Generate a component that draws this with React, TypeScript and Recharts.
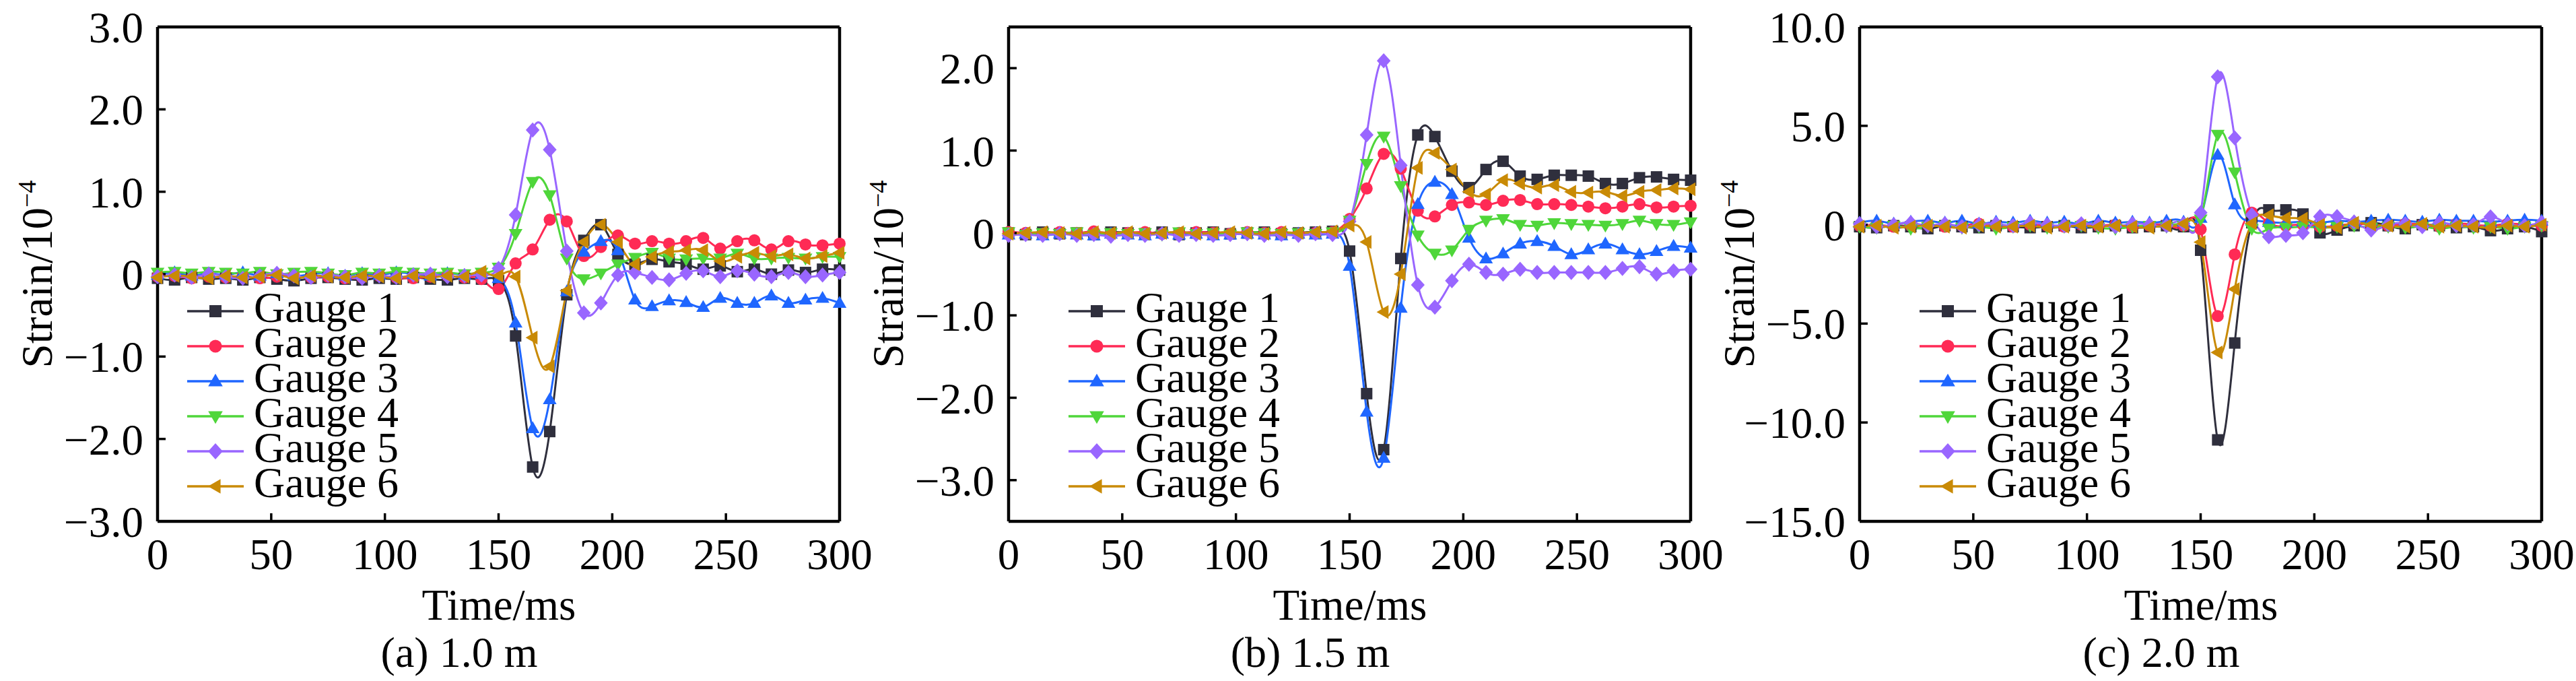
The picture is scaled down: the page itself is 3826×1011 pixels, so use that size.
import React from "react";
import { LineChart, Line, XAxis, YAxis, ReferenceLine } from "recharts";

// time axis, ms (one sample every 7.5 ms)
const TIME = [
  0, 7.5, 15, 22.5, 30, 37.5, 45, 52.5, 60, 67.5, 75, 82.5, 90, 97.5, 105, 112.5, 120, 127.5, 135, 142.5,
  150, 157.5, 165, 172.5, 180, 187.5, 195, 202.5, 210, 217.5, 225, 232.5, 240, 247.5, 255, 262.5, 270, 277.5, 285, 292.5, 300,
];
const X_TICKS = [0, 50, 100, 150, 200, 250, 300];

// (a) 1.0 m
const A_G1 = [-0.05, -0.07, -0.04, -0.06, -0.05, -0.07, -0.04, -0.06, -0.08, -0.05, -0.04, -0.06, -0.07, -0.05, -0.06, -0.04, -0.06, -0.07, -0.05, -0.06,
  -0.08, -0.75, -2.34, -1.91, -0.25, 0.41, 0.6, 0.24, 0.12, 0.18, 0.15, 0.12, 0.06, 0.1, 0.03, 0.06, 0.0, 0.05, 0.02, 0.06, 0.05];
const A_G2 = [-0.03, -0.02, -0.05, -0.03, -0.04, -0.02, -0.05, -0.03, -0.02, -0.04, -0.03, -0.05, -0.04, -0.02, -0.04, -0.05, -0.03, -0.02, -0.04, -0.06,
  -0.18, 0.13, 0.3, 0.66, 0.64, 0.22, 0.33, 0.47, 0.37, 0.4, 0.37, 0.4, 0.44, 0.31, 0.4, 0.41, 0.3, 0.4, 0.36, 0.35, 0.37];
const A_G3 = [-0.01, 0.02, -0.02, 0.01, -0.01, 0.02, -0.02, 0.01, -0.02, 0.0, 0.01, -0.02, 0.01, -0.01, 0.02, 0.0, -0.02, 0.01, -0.01, 0.0,
  -0.05, -0.59, -1.87, -1.52, -0.21, 0.27, 0.4, 0.29, -0.31, -0.39, -0.32, -0.34, -0.4, -0.29, -0.35, -0.35, -0.26, -0.35, -0.31, -0.29, -0.35];
const A_G4 = [0.02, 0.03, 0.01, 0.03, 0.02, 0.01, 0.03, 0.0, 0.02, 0.03, 0.01, -0.01, 0.02, 0.01, 0.03, 0.02, 0.01, 0.02, 0.0, 0.02,
  0.08, 0.49, 1.12, 0.96, 0.19, -0.06, 0.01, 0.12, 0.2, 0.26, 0.19, 0.18, 0.19, 0.19, 0.25, 0.19, 0.19, 0.2, 0.19, 0.21, 0.21];
const A_G5 = [-0.03, -0.01, -0.04, 0.0, -0.03, -0.05, -0.02, 0.01, -0.02, -0.04, -0.01, -0.03, -0.05, -0.02, -0.04, -0.01, 0.0, -0.03, -0.02, -0.01,
  0.07, 0.72, 1.75, 1.51, 0.28, -0.47, -0.35, -0.01, 0.02, -0.04, -0.07, 0.01, 0.04, -0.03, 0.04, 0.0, -0.03, 0.02, -0.03, -0.01, 0.02];
const A_G6 = [-0.04, -0.02, -0.03, -0.05, -0.02, -0.04, -0.03, -0.01, -0.05, -0.02, -0.03, -0.04, -0.02, -0.03, -0.05, -0.02, -0.04, -0.02, -0.03, 0.03,
  -0.02, -0.03, -0.77, -1.12, -0.2, 0.39, 0.6, 0.39, 0.12, 0.21, 0.27, 0.29, 0.29, 0.16, 0.21, 0.26, 0.22, 0.24, 0.19, 0.22, 0.26];
const A_TICKS = [-3, -2, -1, 0, 1, 2, 3];

// (b) 1.5 m
const B_G1 = [0.0, -0.02, 0.01, -0.01, 0.0, -0.02, 0.01, 0.0, -0.01, 0.01, -0.02, 0.0, 0.01, -0.01, 0.0, 0.01, -0.01, 0.0, 0.01, 0.02,
  -0.22, -1.95, -2.63, -0.31, 1.19, 1.17, 0.75, 0.55, 0.77, 0.87, 0.69, 0.65, 0.7, 0.7, 0.69, 0.6, 0.6, 0.67, 0.68, 0.65, 0.64];
const B_G2 = [0.01, 0.0, -0.01, 0.01, 0.0, 0.02, -0.01, 0.0, 0.01, -0.01, 0.0, 0.01, 0.0, -0.01, 0.01, 0.0, 0.01, -0.01, 0.0, 0.01,
  0.17, 0.54, 0.96, 0.78, 0.27, 0.2, 0.34, 0.37, 0.34, 0.39, 0.4, 0.35, 0.35, 0.34, 0.32, 0.3, 0.32, 0.35, 0.31, 0.32, 0.33];
const B_G3 = [-0.02, -0.01, -0.03, -0.01, -0.02, -0.03, -0.01, -0.02, -0.03, -0.01, -0.02, -0.01, -0.03, -0.02, -0.01, -0.02, -0.03, -0.01, -0.02, -0.01,
  -0.4, -2.17, -2.73, -0.91, 0.35, 0.62, 0.47, -0.06, -0.31, -0.25, -0.13, -0.1, -0.16, -0.26, -0.2, -0.13, -0.2, -0.26, -0.22, -0.16, -0.18];
const B_G4 = [0.01, -0.02, 0.0, -0.01, 0.01, -0.02, 0.0, -0.01, 0.0, -0.02, 0.01, -0.01, 0.0, -0.02, 0.01, 0.0, -0.01, 0.0, -0.01, 0.01,
  0.15, 0.84, 1.17, 0.57, -0.03, -0.25, -0.21, 0.04, 0.15, 0.17, 0.1, 0.09, 0.12, 0.11, 0.1, 0.09, 0.11, 0.15, 0.11, 0.1, 0.13];
const B_G5 = [-0.03, -0.02, -0.03, -0.01, -0.03, -0.02, -0.04, -0.02, -0.03, -0.01, -0.03, -0.02, -0.03, -0.02, -0.01, -0.03, -0.02, -0.03, -0.01, -0.02,
  0.14, 1.19, 2.09, 0.82, -0.63, -0.9, -0.58, -0.38, -0.48, -0.5, -0.44, -0.48, -0.48, -0.48, -0.48, -0.48, -0.43, -0.41, -0.5, -0.46, -0.44];
const B_G6 = [-0.01, 0.0, 0.01, 0.0, -0.01, 0.01, 0.0, 0.01, -0.01, 0.0, 0.01, -0.01, 0.0, 0.01, 0.0, -0.01, 0.01, 0.0, 0.01, 0.02,
  0.09, -0.11, -0.96, -0.5, 0.79, 0.97, 0.77, 0.5, 0.47, 0.64, 0.6, 0.55, 0.58, 0.5, 0.49, 0.5, 0.45, 0.5, 0.52, 0.54, 0.53];
const B_TICKS = [-3, -2, -1, 0, 1, 2];

// (c) 2.0 m
const C_G1 = [-0.1, -0.15, -0.05, -0.1, -0.2, -0.05, -0.1, -0.15, -0.05, -0.1, -0.15, -0.1, -0.05, -0.15, -0.1, -0.05, -0.15, -0.1, -0.05, -0.1,
  -1.29, -10.88, -5.98, 0.1, 0.75, 0.75, 0.54, -0.41, -0.27, -0.05, 0.1, -0.05, -0.2, 0.0, -0.05, -0.15, -0.1, -0.3, -0.2, -0.1, -0.35];
const C_G2 = [-0.05, 0.0, -0.1, -0.05, 0.0, -0.1, -0.05, 0.05, -0.05, -0.1, 0.0, -0.05, -0.1, 0.0, -0.05, 0.0, -0.1, -0.05, 0.0, -0.05,
  -0.23, -4.62, -1.5, 0.61, 0.07, -0.05, 0.0, -0.1, -0.05, 0.05, 0.0, -0.05, 0.05, 0.0, -0.1, 0.05, 0.0, -0.05, 0.05, 0.0, -0.05];
const C_G3 = [0.1, 0.2, 0.05, 0.15, 0.2, 0.1, 0.2, 0.05, 0.15, 0.1, 0.2, 0.1, 0.15, 0.05, 0.2, 0.1, 0.15, 0.1, 0.2, 0.15,
  0.34, 3.53, 1.02, 0.2, 0.14, 0.1, 0.15, 0.1, 0.2, 0.15, 0.2, 0.25, 0.2, 0.15, 0.25, 0.2, 0.2, 0.15, 0.2, 0.25, 0.2];
const C_G4 = [-0.1, -0.15, -0.05, -0.2, -0.1, -0.05, -0.15, -0.1, -0.2, -0.1, -0.05, -0.15, -0.1, -0.05, -0.15, -0.2, -0.1, -0.05, -0.1, -0.05,
  0.27, 4.55, 2.65, -0.2, -0.2, -0.15, -0.1, -0.15, -0.1, -0.05, -0.15, -0.1, -0.15, -0.1, -0.2, -0.1, -0.15, -0.1, -0.2, -0.1, -0.05];
const C_G5 = [0.05, -0.1, 0.0, 0.1, -0.05, 0.05, -0.1, 0.0, 0.05, -0.05, 0.1, 0.0, -0.05, 0.05, 0.0, -0.1, 0.05, 0.0, -0.05, 0.05,
  0.61, 7.48, 4.39, 0.5, -0.61, -0.54, -0.41, 0.41, 0.41, 0.14, -0.27, 0.0, 0.05, -0.1, 0.1, -0.05, 0.0, 0.4, 0.05, -0.05, 0.1];
const C_G6 = [-0.1, -0.05, -0.15, -0.1, -0.05, -0.1, -0.15, -0.05, -0.1, -0.1, -0.05, -0.15, -0.1, -0.05, -0.1, -0.05, -0.1, -0.15, -0.05, 0.05,
  -0.88, -6.46, -3.26, 0.07, 0.48, 0.34, 0.31, 0.0, -0.14, 0.1, 0.0, -0.05, -0.1, 0.05, -0.1, -0.05, -0.1, -0.15, -0.05, -0.1, 0.0];
const C_TICKS = [-15, -10, -5, 0, 5, 10];

const SERIES = [
  { key: "g1", name: "Gauge 1", color: "#2f2f3d", shape: "square" },
  { key: "g2", name: "Gauge 2", color: "#ff2a55", shape: "circle" },
  { key: "g3", name: "Gauge 3", color: "#1f66ff", shape: "up" },
  { key: "g4", name: "Gauge 4", color: "#4fd63a", shape: "down" },
  { key: "g5", name: "Gauge 5", color: "#9966ff", shape: "diamond" },
  { key: "g6", name: "Gauge 6", color: "#c98a05", shape: "left" },
];

const FONT = '"Liberation Serif", "Times New Roman", serif';
const CHART_W = 1307;
const CHART_H = 1011;
const Y_W = 200;
const X_H = 60;
// plot area inside each chart: x 234..1247, y 40..774
const MARGIN = { top: 40, right: 60, bottom: 177, left: 34 };

const toRows = (cols: number[][]) =>
  TIME.map((t, i) => {
    const row: any = { t };
    SERIES.forEach((s, j) => (row[s.key] = cols[j][i]));
    return row;
  });

const PANELS = [
  { id: "a", x: 0, domain: [-3, 3], ticks: A_TICKS, legendX: 44, title: "(a) 1.0 m", rows: toRows([A_G1, A_G2, A_G3, A_G4, A_G5, A_G6]) },
  { id: "b", x: 1264, domain: [-3.5, 2.5], ticks: B_TICKS, legendX: 89, title: "(b) 1.5 m", rows: toRows([B_G1, B_G2, B_G3, B_G4, B_G5, B_G6]) },
  { id: "c", x: 2528, domain: [-15, 10], ticks: C_TICKS, legendX: 89, title: "(c) 2.0 m", rows: toRows([C_G1, C_G2, C_G3, C_G4, C_G5, C_G6]) },
];

const fmtY = (v: number) => (v === 0 ? "0" : v.toFixed(1).replace("-", "\u2212"));

function Marker({ shape, cx, cy, color, s = 17 }: any) {
  if (cx == null || cy == null) return null;
  switch (shape) {
    case "square":
      return <rect x={cx - s / 2} y={cy - s / 2} width={s} height={s} fill={color} />;
    case "circle":
      return <circle cx={cx} cy={cy} r={s / 2 + 0.5} fill={color} />;
    case "up":
      return <polygon points={`${cx},${cy - 0.62 * s} ${cx - 0.6 * s},${cy + 0.42 * s} ${cx + 0.6 * s},${cy + 0.42 * s}`} fill={color} />;
    case "down":
      return <polygon points={`${cx},${cy + 0.62 * s} ${cx - 0.6 * s},${cy - 0.42 * s} ${cx + 0.6 * s},${cy - 0.42 * s}`} fill={color} />;
    case "diamond":
      return <polygon points={`${cx},${cy - 0.66 * s} ${cx + 0.6 * s},${cy} ${cx},${cy + 0.66 * s} ${cx - 0.6 * s},${cy}`} fill={color} />;
    default:
      return <polygon points={`${cx - 0.62 * s},${cy} ${cx + 0.42 * s},${cy - 0.6 * s} ${cx + 0.42 * s},${cy + 0.6 * s}`} fill={color} />;
  }
}

// axis titles, panel caption and legend
function PanelText({ title, legendX }: any) {
  const x0 = 234 + legendX;
  return (
    <g fontFamily={FONT} fill="#000">
      <text x={77} y={407} transform="rotate(-90 77 407)" textAnchor="middle" fontSize={65}>
        Strain/10<tspan dy={-24} fontSize={38}>{"\u22124"}</tspan>
      </text>
      <text x={741} y={920} textAnchor="middle" fontSize={65}>Time/ms</text>
      <text x={682} y={990} textAnchor="middle" fontSize={64}>{title}</text>
      {SERIES.map((s, i) => {
        const y = 462 + 52 * i;
        return (
          <g key={s.key}>
            <line x1={x0} x2={x0 + 84} y1={y} y2={y} stroke={s.color} strokeWidth={3.5} />
            <Marker shape={s.shape} cx={x0 + 42} cy={y} color={s.color} s={18} />
            <text x={x0 + 99} y={y + 16} fontSize={64}>{s.name}</text>
          </g>
        );
      })}
    </g>
  );
}

function Panel({ p }: any) {
  const tick = { fontSize: 65, fill: "#000", fontFamily: FONT };
  return (
    <div style={{ position: "absolute", left: p.x, top: 0 }}>
      <LineChart width={CHART_W} height={CHART_H} data={p.rows} margin={MARGIN}>
        <XAxis
          dataKey="t"
          type="number"
          domain={[0, 300]}
          ticks={X_TICKS}
          interval={0}
          height={X_H}
          tick={tick}
          tickSize={-12}
          tickMargin={37}
          axisLine={{ stroke: "#000", strokeWidth: 4.5 }}
          tickLine={{ stroke: "#000", strokeWidth: 3.5 }}
          label={<PanelText title={p.title} legendX={p.legendX} />}
        />
        <YAxis
          type="number"
          domain={p.domain}
          ticks={p.ticks}
          interval={0}
          width={Y_W}
          allowDataOverflow
          tick={tick}
          tickFormatter={fmtY}
          tickSize={-12}
          tickMargin={33}
          axisLine={{ stroke: "#000", strokeWidth: 4.5 }}
          tickLine={{ stroke: "#000", strokeWidth: 3.5 }}
        />
        <ReferenceLine y={p.domain[1]} stroke="#000" strokeWidth={4.5} />
        <ReferenceLine x={300} stroke="#000" strokeWidth={4.5} />
        {SERIES.map((s) => (
          <Line
            key={s.key}
            type="natural"
            dataKey={s.key}
            name={s.name}
            stroke={s.color}
            strokeWidth={3}
            isAnimationActive={false}
            activeDot={false}
            dot={(d: any) => (
              <Marker key={`${s.key}-${d.index}`} shape={s.shape} cx={d.cx} cy={d.cy} color={s.color} />
            )}
          />
        ))}
      </LineChart>
    </div>
  );
}

export default function App() {
  return (
    <div
      style={{
        position: "absolute",
        left: 0,
        top: 0,
        width: 3826,
        height: 1011,
        overflow: "hidden",
        background: "#fff",
      }}
    >
      {PANELS.map((p) => (
        <Panel key={p.id} p={p} />
      ))}
    </div>
  );
}
